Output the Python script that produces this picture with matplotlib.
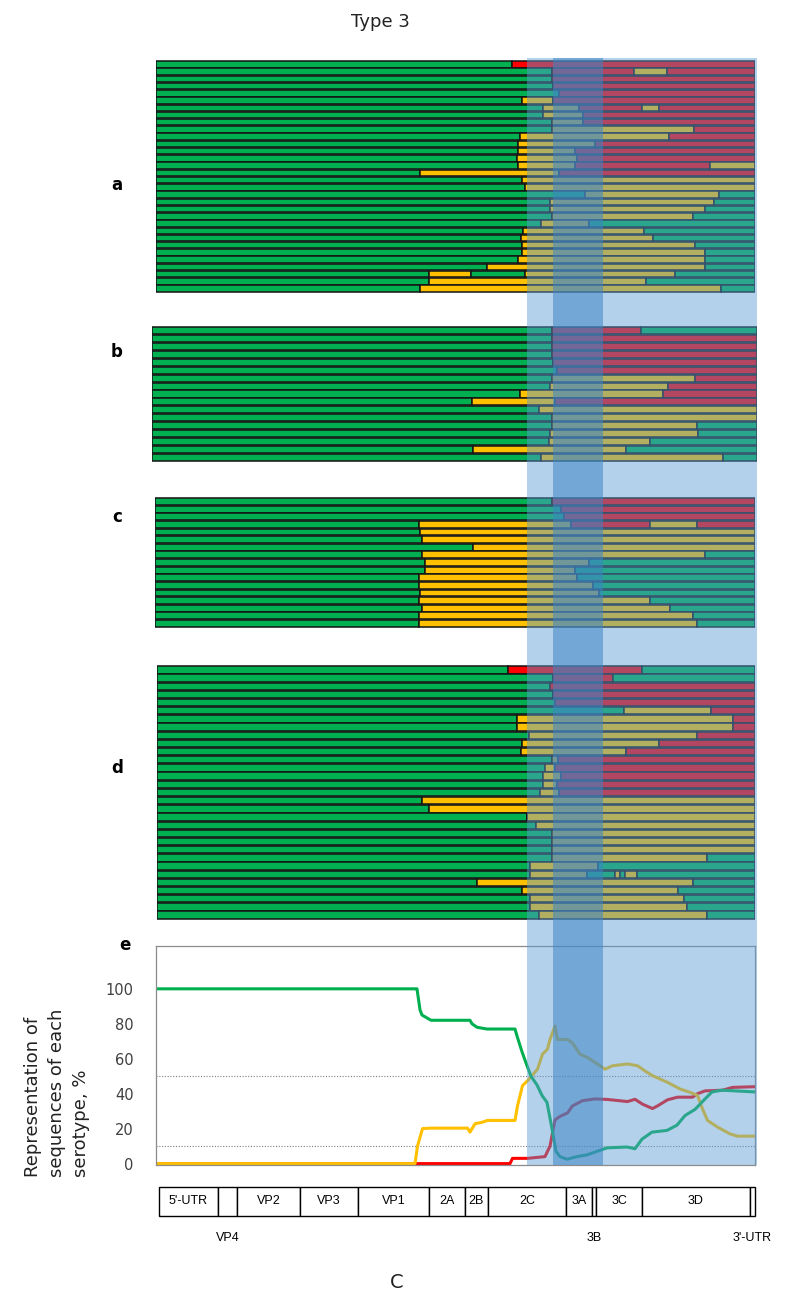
import matplotlib
matplotlib.use("Agg")
import matplotlib.pyplot as plt
from matplotlib.patches import Rectangle

# colours of the three serotypes (the blue bands are drawn on top of them)
COLORS = {"G": "#00B050", "Y": "#FFC000", "R": "#FF0000"}

# each row: serotype code of every segment, and the breakpoints between segments
# (genome position, same units as the x axis of panel e)
rows_a = [
    ("GR", [356]), ("GRYR", [396, 478, 511]), ("GR", [396]), ("GR", [397]),
    ("GR", [403]), ("GYR", [366, 397]), ("GYRYR", [387, 423, 486, 503]),
    ("GYR", [387, 427]), ("GYR", [396, 427]), ("GYR", [396, 538]),
    ("GYR", [364, 513]), ("GYR", [362, 439]), ("GYR", [362, 419]),
    ("GYR", [361, 421]), ("GYRY", [362, 419, 554]), ("GYR", [264, 403]),
    ("GY", [366]), ("GY", [369]), ("GYG", [429, 563]), ("GYG", [394, 558]),
    ("GYG", [394, 549]), ("GYG", [396, 537]), ("GYG", [385, 433]),
    ("GYG", [367, 488]), ("GYG", [365, 497]), ("GYG", [366, 539]),
    ("GYG", [366, 549]), ("GYG", [362, 549]), ("GYG", [331, 549]),
    ("GYGYG", [273, 315, 369, 519]), ("GYG", [273, 490]), ("GYG", [264, 565]),
]
rows_b = [
    ("GRG", [396, 485]), ("GR", [396]), ("GR", [396]), ("GR", [396]),
    ("GR", [397]), ("GR", [401]), ("GYR", [396, 539]), ("GYR", [394, 512]),
    ("GYR", [364, 507]), ("GYR", [316, 399]), ("GY", [383]), ("GY", [396]),
    ("GYG", [396, 541]), ("GYG", [394, 542]), ("GYG", [393, 494]),
    ("GYG", [317, 470]), ("GYG", [385, 567]),
]
rows_c = [
    ("GR", [396]), ("GR", [405]), ("GR", [408]), ("GYRYR", [263, 415, 494, 541]),
    ("GY", [264]), ("GY", [266]), ("GY", [317]), ("GYG", [266, 549]),
    ("GYG", [269, 433]), ("GYG", [269, 419]), ("GYG", [263, 421]),
    ("GYG", [263, 437]), ("GYG", [264, 443]), ("GYG", [263, 494]),
    ("GYG", [266, 514]), ("GYG", [263, 537]), ("GYG", [263, 541]),
]
rows_d = [
    ("GRG", [352, 486]), ("GRG", [397, 457]), ("GR", [394]), ("GR", [397]),
    ("GR", [399]), ("GYR", [468, 555]), ("GYR", [361, 577]), ("GYR", [361, 577]),
    ("GYR", [373, 541]), ("GYR", [366, 503]), ("GYR", [365, 470]),
    ("GYR", [396, 402]), ("GYR", [389, 399]), ("GYR", [387, 405]),
    ("GYR", [387, 401]), ("GYR", [384, 403]), ("GY", [266]), ("GY", [273]),
    ("GY", [371]), ("GY", [380]), ("GY", [396]), ("GY", [396]), ("GY", [396]),
    ("GYG", [396, 551]), ("GYG", [374, 442]),
    ("GYGYGYG", [374, 431, 459, 464, 469, 481]), ("GYG", [321, 537]),
    ("GYG", [366, 522]), ("GYG", [374, 528]), ("GYG", [374, 531]),
    ("GYG", [383, 551]),
]

# panel e: share of each serotype along the genome, %
green_x = [0, 259, 261, 264, 266, 275, 314, 316, 321, 331, 359, 361, 366, 371, 375,
           381, 386, 391, 396, 400, 404, 411, 421, 431, 444, 451, 471, 479, 486, 496,
           511, 521, 529, 539, 549, 556, 566, 599]
green_y = [100, 100, 100, 88, 85, 82, 82, 80, 78, 77, 77, 73, 64, 56, 50,
           45, 39, 35, 20, 7, 4, 2.5, 4, 5, 7.6, 9, 9.5, 8.5, 14, 18,
           19, 22, 27.5, 31, 37, 41, 42, 41]
yellow_x = [0, 259, 261.5, 266.5, 274, 311.5, 314, 319, 326.5, 331.5, 359, 361.5,
            366.5, 371.5, 375.5, 381.5, 386.5, 391.5, 394, 399, 401.5, 411.5, 416.5,
            424, 431.5, 444, 449, 456.5, 471.5, 481.5, 489, 496.5, 511.5, 524, 534,
            541.5, 546.5, 551.5, 561.5, 574, 581.5, 599]
yellow_y = [0, 0, 10, 20, 20.3, 20.3, 18, 22.8, 23.7, 24.7, 24.7, 33,
            44.6, 47.4, 50, 54, 62.6, 65.5, 71, 78.7, 71, 71, 69,
            62.6, 60.7, 56, 54, 56, 57, 56, 53, 50.3, 46.5, 42.7, 40.8,
            39, 31.3, 24.7, 20.9, 17, 15.7, 15.7]
red_x = [0, 354, 356.5, 371.5, 389, 394, 399, 404, 411.5, 416.5, 426.5, 439, 451.5,
         471.5, 479, 486.5, 496.5, 501.5, 511.5, 521.5, 536.5, 541.5, 549, 566.5,
         576.5, 599]
red_y = [0, 0, 3, 3, 4, 10, 25, 27, 29, 33, 36, 37, 36.7,
         35.5, 36.8, 34, 31.5, 33, 36.5, 38, 38, 40, 41.6, 42,
         43.6, 44]

# genome map
gene_names = ["5'-UTR", "VP4", "VP2", "VP3", "VP1", "2A", "2B", "2C", "3A", "3B",
              "3C", "3D", "3'-UTR"]
gene_bounds = [3, 62, 81, 144, 202, 273, 309, 332, 410, 436, 440, 486, 594, 599]
genes_below = ["VP4", "3B", "3'-UTR"]

recomb_region = (371, 601)
hot_region = (397, 447)

W, H = 794, 1306
X0 = 156  # pixel column of genome position 0

fig = plt.figure(figsize=(W / 100, H / 100), dpi=100)


def add_px_axes(x0, y0, x1, y1):
    ax = fig.add_axes([x0 / W, 1 - y1 / H, (x1 - x0) / W, (y1 - y0) / H])
    ax.set_xlim(x0 - X0, x1 - X0)
    return ax


def draw_panel(ax, rows):
    x_start, x_end = ax.get_xlim()
    ys, lefts, widths, cols = [], [], [], []
    for i, (codes, breaks) in enumerate(rows):
        edges = [x_start] + breaks + [x_end]
        for j, c in enumerate(codes):
            ys.append(i)
            lefts.append(edges[j])
            widths.append(edges[j + 1] - edges[j])
            cols.append(COLORS[c])
    ax.barh(ys, widths, left=lefts, height=0.9, color=cols,
            edgecolor="#141414", linewidth=1.1)
    ax.set_ylim(len(rows) - 0.4, -0.6)
    ax.axis("off")


panels = [
    ("a", rows_a, (156, 60, 755, 293), 185),
    ("b", rows_b, (152, 326, 757, 462), 352),
    ("c", rows_c, (155, 497, 755, 628), 517),
    ("d", rows_d, (157, 665, 755, 920), 768),
]
for letter, rows, box, label_y in panels:
    ax = add_px_axes(*box)
    draw_panel(ax, rows)
    fig.text(117 / W, 1 - label_y / H, letter, fontsize=12, fontweight="bold",
             ha="center", va="center")

# panel e
ax_e = add_px_axes(156, 946, 755, 1165)
ax_e.plot(red_x, red_y, color=COLORS["R"], lw=2.2, solid_joinstyle="round")
ax_e.plot(yellow_x, yellow_y, color=COLORS["Y"], lw=2.2, solid_joinstyle="round")
ax_e.plot(green_x, green_y, color=COLORS["G"], lw=2.2, solid_joinstyle="round")
for lvl in (50, 10):
    ax_e.axhline(lvl, color="#7f7f7f", lw=0.8, ls=(0, (1, 1.5)), zorder=0)
ax_e.set_ylim(-0.8, 124.5)
ax_e.set_yticks([0, 20, 40, 60, 80, 100])
ax_e.set_xticks([])
ax_e.tick_params(axis="y", length=0, pad=16, labelsize=10.5, labelcolor="#404040")
for sp in ax_e.spines.values():
    sp.set_color("#8c8c8c")
    sp.set_linewidth(0.9)
fig.text(125 / W, 1 - 945 / H, "e", fontsize=12, fontweight="bold",
         ha="center", va="center")
fig.text(57 / W, 1 - 1177 / H, "Representation of\nsequences of each\nserotype, %",
         rotation=90, ha="center", va="bottom", multialignment="left",
         fontsize=13, linespacing=1.45, color="#222222")

# genome map
ax_g = add_px_axes(156, 1187, 755, 1216)
ax_g.set_ylim(0, 1)
ax_g.axis("off")
for name, g0, g1 in zip(gene_names, gene_bounds[:-1], gene_bounds[1:]):
    ax_g.add_patch(Rectangle((g0, 0), g1 - g0, 1, facecolor="white",
                             edgecolor="black", lw=1.0, clip_on=False))
    if name in genes_below:
        ax_g.text((g0 + g1) / 2, -0.75, name, ha="center", va="center",
                  fontsize=9, family="Liberation Sans")
    else:
        ax_g.text((g0 + g1) / 2, 0.5, name, ha="center", va="center",
                  fontsize=9, family="Liberation Sans")

# blue highlight bands over everything
ax_o = add_px_axes(150, 58, 760, 1165)
ax_o.set_ylim(0, 1)
ax_o.axis("off")
ax_o.patch.set_alpha(0)
ax_o.axvspan(*recomb_region, color="#5B9BD5", alpha=0.46, lw=0)
ax_o.axvspan(*hot_region, color="#3D85C6", alpha=0.55, lw=0)

fig.text(380 / W, 1 - 22 / H, "Type 3", fontsize=13, ha="center", va="center",
         color="#222222")
fig.text(397 / W, 1 - 1283 / H, "C", fontsize=14, ha="center", va="center",
         color="#222222")

fig.savefig("out.png", dpi=100)
